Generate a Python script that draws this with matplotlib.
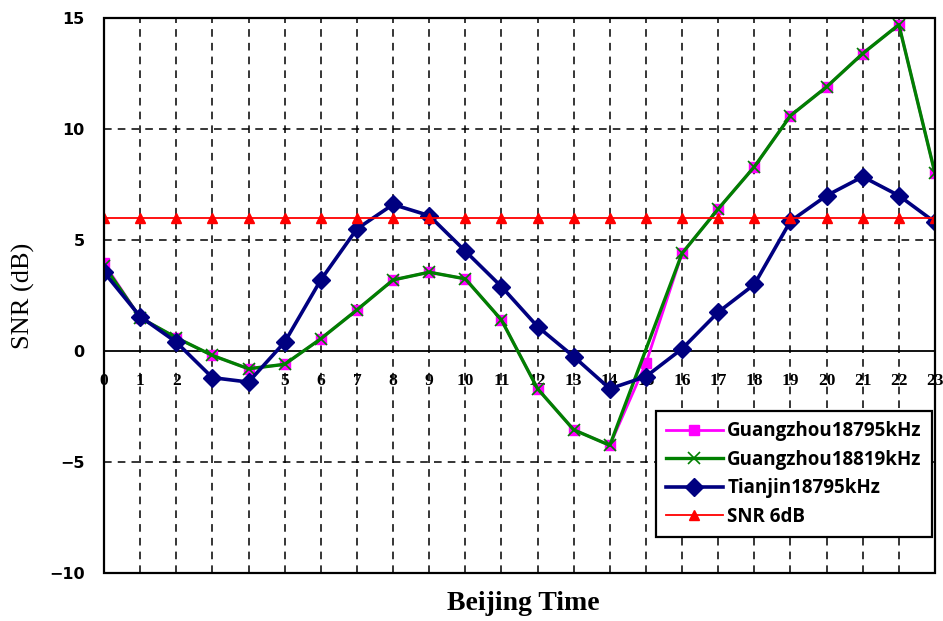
import matplotlib
matplotlib.use("Agg")
import matplotlib.pyplot as plt
from matplotlib.patches import Rectangle

hours = list(range(24))
gz18795 = [3.95, 1.5, 0.6, -0.2, -0.8, -0.6, 0.55, 1.85, 3.2, 3.55, 3.25, 1.4,
           -1.7, -3.55, -4.25, -0.55, 4.4, 6.4, 8.3, 10.6, 11.9, 13.4, 14.7, 8.0]
gz18819 = [3.85, 1.5, 0.6, -0.2, -0.8, -0.6, 0.55, 1.85, 3.2, 3.55, 3.25, 1.4,
           -1.7, -3.55, -4.25, None, 4.4, 6.4, 8.3, 10.6, 11.9, 13.4, 14.7, 8.0]
tj18795 = [3.55, 1.55, 0.4, -1.2, -1.4, 0.4, 3.2, 5.5, 6.6, 6.1, 4.5, 2.9,
           1.1, -0.25, -1.7, -1.15, 0.1, 1.75, 3.0, 5.85, 7.0, 7.85, 7.0, 5.8]
snr6 = [6.0] * 24
series_labels = ["Guangzhou18795kHz", "Guangzhou18819kHz", "Tianjin18795kHz", "SNR 6dB"]
yticks = [-10, -5, 0, 5, 10, 15]

fig = plt.figure(figsize=(9.43, 6.21), dpi=100)
ax = fig.add_axes([104/943, 1-573/621, 831/943, 555/621])

g_x = [h for h, v in zip(hours, gz18819) if v is not None]
g_y = [v for v in gz18819 if v is not None]

ax.plot(hours, gz18795, color="#FF00FF", lw=2.0, marker="s", ms=7, mec="#FF00FF", label=series_labels[0], zorder=3)
ax.plot(g_x, g_y, color="#008000", lw=2.4, marker="x", ms=8, mew=1.2, label=series_labels[1], zorder=4)
ax.plot(hours, tj18795, color="#000080", lw=2.6, marker="D", ms=9, label=series_labels[2], zorder=5)
ax.plot(hours, snr6, color="#FF0000", lw=1.3, marker="^", ms=7, label=series_labels[3], zorder=6)

ax.set_xlim(0, 23)
ax.set_ylim(-10, 15)
ax.set_xticks(hours)
ax.set_yticks(yticks)

# grid
for h in hours[1:-1]:
    ax.axvline(h, color="black", lw=1.1, ls=(0, (5, 4)), zorder=1)
for v in [-5, 5, 10]:
    ax.axhline(v, color="black", lw=1.1, ls=(0, (5, 4)), zorder=1)

# x axis at zero
for s in ["top", "right", "left"]:
    ax.spines[s].set_visible(False)
ax.spines["bottom"].set_position(("data", 0))
ax.spines["bottom"].set_linewidth(1.3)
ax.add_patch(Rectangle((0, 0), 1, 1, transform=ax.transAxes, fill=False,
                       lw=1.6, edgecolor="black", zorder=7, clip_on=False))

ax.tick_params(axis="x", length=0, pad=16)
ax.tick_params(axis="y", length=0, pad=14)
for lab in ax.get_xticklabels():
    lab.set_fontfamily("Liberation Serif")
    lab.set_fontweight("bold")
    lab.set_fontsize(12.5)
for lab in ax.get_yticklabels():
    lab.set_fontfamily("DejaVu Sans")
    lab.set_fontweight("bold")
    lab.set_fontsize(11.5)

ax.set_ylabel("SNR (dB)", fontfamily="Liberation Serif", fontsize=19, labelpad=10)
fig.text((443+603)/2/943, 1-604/621, "Beijing Time", ha="center", va="center",
         fontfamily="Liberation Serif", fontweight="bold", fontsize=20)

leg = ax.legend(loc="lower right", bbox_to_anchor=(932/943, 1-537/621), bbox_transform=fig.transFigure,
                frameon=True, fancybox=False, framealpha=1, edgecolor="black",
                handlelength=3.0, handletextpad=0.25, borderpad=0.55, labelspacing=0.45,
                borderaxespad=0,
                prop={"family": "Open Sans", "weight": "bold", "size": 13.5})
leg.get_frame().set_linewidth(1.6)
leg.set_zorder(10)

fig.savefig("out.png", dpi=100)
